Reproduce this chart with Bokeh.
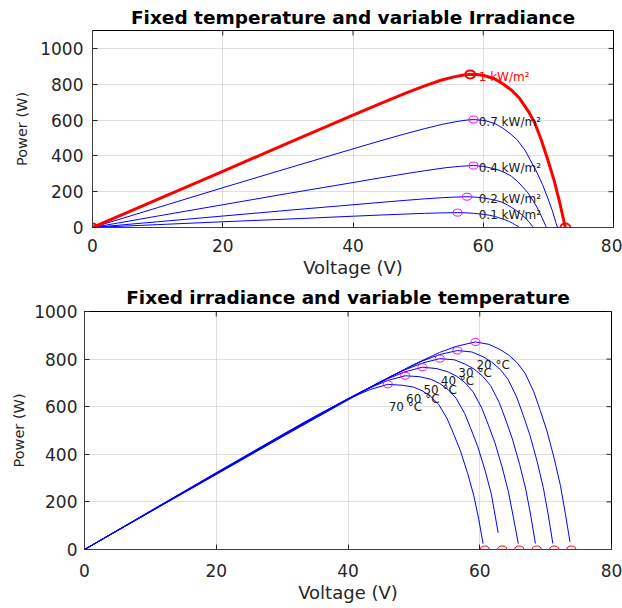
import math
from bokeh.plotting import figure
from bokeh.models import Range1d, FixedTicker
from bokeh.embed import file_html
from bokeh.resources import INLINE
from bokeh.core.properties import value

FONT = "DejaVu Sans"

# ---------------- data: top chart (fixed temperature, variable irradiance) ----------------
x_ticks = [0, 20, 40, 60, 80]
y_ticks = [0, 200, 400, 600, 800, 1000]

irr_names = ["1 kW/m²", "0.7 kW/m²", "0.4 kW/m²", "0.2 kW/m²", "0.1 kW/m²"]

v_g1000 = [0, 10, 20, 30, 40, 44, 48, 51, 53.5, 55.5, 57, 58, 59, 60.1, 61.8, 63.1, 64.4, 65.6, 66.9, 67.9, 68.9, 69.9, 70.9, 71.8, 72.6]
p_g1000 = [0, 157, 314, 471, 627, 689, 749, 791, 822, 841, 851, 855, 854, 849, 829, 800, 765, 720, 650, 585, 490, 380, 260, 130, 0]

v_g700 = [0, 10, 20, 30, 40, 44, 48, 51, 53.7, 56, 57.5, 58.5, 60.3, 61.8, 63.0, 64.1, 65.2, 66.4, 67.2, 68.1, 69.1, 69.9, 70.6, 71.2, 71.4]
p_g700 = [0, 111, 222, 331, 439, 482, 523, 552, 576, 592, 600, 603, 597, 580, 555, 525, 490, 432, 378, 318, 240, 165, 95, 22, 0]

v_g400 = [0, 10, 20, 30, 40, 44, 48, 51, 54.3, 56.5, 58.5, 60.1, 61.4, 62.4, 63.4, 64.3, 65.3, 66.1, 66.9, 67.7, 68.4, 69.0, 69.55, 69.7]
p_g400 = [0, 64, 127, 190, 251, 276, 300, 317, 334, 342, 346, 341, 330, 320, 305, 287, 256, 225, 192, 147, 103, 57, 12, 0]

v_g200 = [0, 10, 20, 30, 40, 44, 48, 51, 53.7, 55.8, 57.5, 59.0, 60.2, 61.1, 62.0, 62.8, 63.7, 64.4, 65.1, 65.9, 66.55, 67.1, 67.56, 67.7]
p_g200 = [0, 32, 64, 96, 127, 139.5, 151.5, 160, 166.5, 170, 172, 169, 164, 158, 151, 142, 126, 111, 94, 72, 50, 28, 6, 0]

v_g100 = [0, 10, 20, 30, 40, 44, 48, 51, 53.5, 56.05, 57.4, 58.5, 59.4, 60.2, 61.0, 61.9, 62.5, 63.2, 63.9, 64.5, 65.0, 65.47, 65.6]
p_g100 = [0, 16, 32, 47, 63, 69.2, 75, 79, 81.5, 83, 82, 79, 76, 73, 68, 61, 53, 45, 35, 24, 13, 3, 0]

irr_mpp_v = [58.0, 58.5, 58.5, 57.5, 56.05]
irr_mpp_p = [855, 603, 346, 172, 83]
voc_g1000 = 72.6

# ---------------- data: bottom chart (fixed irradiance, variable temperature) ----------------
temp_names = ["20 °C", "30 °C", "40 °C", "50 °C", "60 °C", "70 °C"]

v_t20 = [0, 10, 20, 30, 40, 46.9, 49.9, 53.9, 56.5, 59.35, 61.4, 63.1, 64.4, 65.7, 66.9, 68.2, 69.2, 70.2, 71.3, 72.25, 73.0, 73.7]
p_t20 = [0, 158, 315, 473, 628, 733, 776, 828, 854, 872, 862, 840, 817, 784, 740, 663, 583, 498, 383, 268, 150, 32]

v_t30 = [0, 10, 20, 30, 40, 44.3, 47.3, 51.3, 53.9, 56.6, 58.8, 60.5, 61.8, 63.1, 64.3, 65.6, 66.6, 67.6, 68.7, 69.65, 70.4, 71.1]
p_t30 = [0, 159, 317, 475, 631, 696, 739, 792, 819, 836, 830, 810, 788, 757, 715, 641, 564, 482, 371, 260, 145, 25]

v_t40 = [0, 10, 20, 30, 40, 44.65, 48.65, 51.25, 53.93, 56.15, 57.85, 59.15, 60.45, 61.65, 62.95, 63.95, 64.95, 66.05, 67.0, 67.75, 68.45]
p_t40 = [0, 159, 319, 477, 633, 701, 755, 783, 802, 797, 778, 758, 728, 689, 618, 544, 465, 358, 251, 141, 25]

v_t50 = [0, 10, 20, 30, 39, 42, 46.0, 48.6, 51.3, 53.5, 55.2, 56.5, 57.8, 59.0, 60.3, 61.3, 62.3, 63.4, 64.35, 65.1, 65.85]
p_t50 = [0, 160, 320, 479, 619, 663, 717, 746, 766, 760, 746, 728, 700, 662, 595, 524, 449, 346, 243, 136, 25]

v_t60 = [0, 10, 20, 30, 36.4, 39.4, 43.4, 46.0, 48.67, 50.9, 52.6, 53.9, 55.2, 56.4, 57.7, 58.7, 59.7, 60.8, 61.75, 62.8]
p_t60 = [0, 161, 321, 481, 580, 625, 680, 710, 730, 726, 715, 698, 672, 636, 572, 504, 432, 333, 234, 70]

v_t70 = [0, 10, 20, 30, 33.76, 36.76, 40.76, 43.36, 46.03, 48.26, 49.96, 51.26, 52.56, 53.76, 55.06, 56.06, 57.06, 58.16, 59.11, 59.86, 60.5]
p_t70 = [0, 162, 323, 482, 541, 586, 642, 672, 694, 690, 682, 667, 643, 610, 549, 484, 415, 320, 225, 126, 25]

temp_mpp_v = [59.35, 56.6, 53.93, 51.3, 48.67, 46.03]
temp_mpp_p = [872, 836, 802, 766, 730, 694]
temp_voc = [73.9, 71.3, 68.65, 66.0, 63.4, 60.76]


def make_fig(title, ymax, height, b_left, b_right, b_top, b_bottom, title_standoff,
             xl_standoff, xa_standoff, yl_standoff, ya_standoff):
    p = figure(width=622, height=height, x_range=Range1d(0, 80), y_range=Range1d(0, ymax),
               title=title, output_backend="svg", toolbar_location=None,
               min_border_left=b_left, min_border_right=b_right,
               min_border_top=b_top, min_border_bottom=b_bottom)
    p.title.text_font = FONT
    p.title.text_font_style = "bold"
    p.title.text_font_size = "18.5px"
    p.title.text_color = "black"
    p.title.align = "center"
    p.title.standoff = title_standoff
    p.background_fill_color = "white"
    p.border_fill_color = "white"
    p.outline_line_color = "black"
    p.outline_line_alpha = 1.0
    p.outline_line_width = 1

    xa = p.below[0]
    ya = p.left[0]
    xa.ticker = FixedTicker(ticks=x_ticks)
    ya.ticker = FixedTicker(ticks=y_ticks)
    for ax in (xa, ya):
        ax.major_label_text_font = FONT
        ax.major_label_text_font_size = "17px"
        ax.major_label_text_color = "#262626"
        ax.axis_label_text_font = FONT
        ax.axis_label_text_font_style = "normal"
        ax.axis_label_text_color = "#262626"
        ax.major_tick_in = 5
        ax.major_tick_out = 0
        ax.minor_tick_in = 0
        ax.minor_tick_out = 0
        ax.axis_line_color = "#404040"
        ax.major_tick_line_color = "#262626"
    xa.axis_label = "Voltage (V)"
    xa.axis_label_text_font_size = "18px"
    xa.major_label_standoff = xl_standoff
    xa.axis_label_standoff = xa_standoff
    ya.axis_label = "Power (W)"
    ya.axis_label_text_font_size = "14.5px"
    ya.major_label_standoff = yl_standoff
    ya.axis_label_standoff = ya_standoff

    p.grid.grid_line_color = "#262626"
    p.grid.grid_line_alpha = 0.15

    # inward tick marks on the top and right edges of the box (clipped to the frame)
    p.scatter(x=x_ticks[1:-1], y=[ymax] * len(x_ticks[1:-1]), marker="dash", angle=math.pi / 2,
              size=10, line_color="#262626", line_width=1)
    p.scatter(x=[80] * len(y_ticks[1:]), y=y_ticks[1:], marker="dash",
              size=10, line_color="#262626", line_width=1)
    return p


# ---------------- top chart ----------------
p1 = make_fig("Fixed temperature and variable Irradiance", 1100, 280, 92, 9, 30, 50, 5,
              11, 2, 9, 7)

blue_v = [v_g700, v_g400, v_g200, v_g100]
blue_p = [p_g700, p_g400, p_g200, p_g100]
for vv, pp in zip(blue_v, blue_p):
    p1.line(vv, pp, line_color="#0000ff", line_width=1)
p1.line(v_g1000, p_g1000, line_color="#ff0000", line_width=3)

p1.ellipse(x=irr_mpp_v[1:], y=irr_mpp_p[1:], width=9, height=7,
           width_units="screen", height_units="screen",
           fill_color=None, line_color="#ff00ff", line_width=1)
p1.ellipse(x=[0, irr_mpp_v[0], voc_g1000], y=[0, irr_mpp_p[0], 0], width=10, height=8,
           width_units="screen", height_units="screen",
           fill_color=None, line_color="#ff0000", line_width=2)

irr_lab_x = [59.3 for _ in irr_mpp_v]
irr_lab_y = [pp - 15 for pp in irr_mpp_p]
irr_lab_col = ["#ff0000"] + ["#1a1a1a"] * 4
p1.text(x=irr_lab_x, y=irr_lab_y, text=irr_names, text_color=irr_lab_col,
        text_font=value(FONT), text_font_size=value("12px"),
        text_align="left", text_baseline="middle")

# ---------------- bottom chart ----------------
p2 = make_fig("Fixed irradiance and variable temperature", 1000, 326, 84, 11, 30, 57, 8,
              14, 2, 7, 4)

temp_v = [v_t20, v_t30, v_t40, v_t50, v_t60, v_t70]
temp_p = [p_t20, p_t30, p_t40, p_t50, p_t60, p_t70]
for vv, pp in zip(temp_v, temp_p):
    p2.line(vv, pp, line_color="#0000ff", line_width=1)

p2.ellipse(x=temp_mpp_v, y=temp_mpp_p, width=9, height=7,
           width_units="screen", height_units="screen",
           fill_color=None, line_color="#ff00ff", line_width=1)
p2.ellipse(x=temp_voc, y=[0] * len(temp_voc), width=9, height=7,
           width_units="screen", height_units="screen",
           fill_color=None, line_color="#ff0000", line_width=1)

temp_lab_x = [vv + 0.15 for vv in temp_mpp_v]
temp_lab_y = [pp - 96 for pp in temp_mpp_p]
p2.text(x=temp_lab_x, y=temp_lab_y, text=temp_names, text_color="#1a1a1a",
        text_font=value(FONT), text_font_size=value("12px"),
        text_align="left", text_baseline="middle")

open("out.html", "w").write(file_html([p1, p2], INLINE))
